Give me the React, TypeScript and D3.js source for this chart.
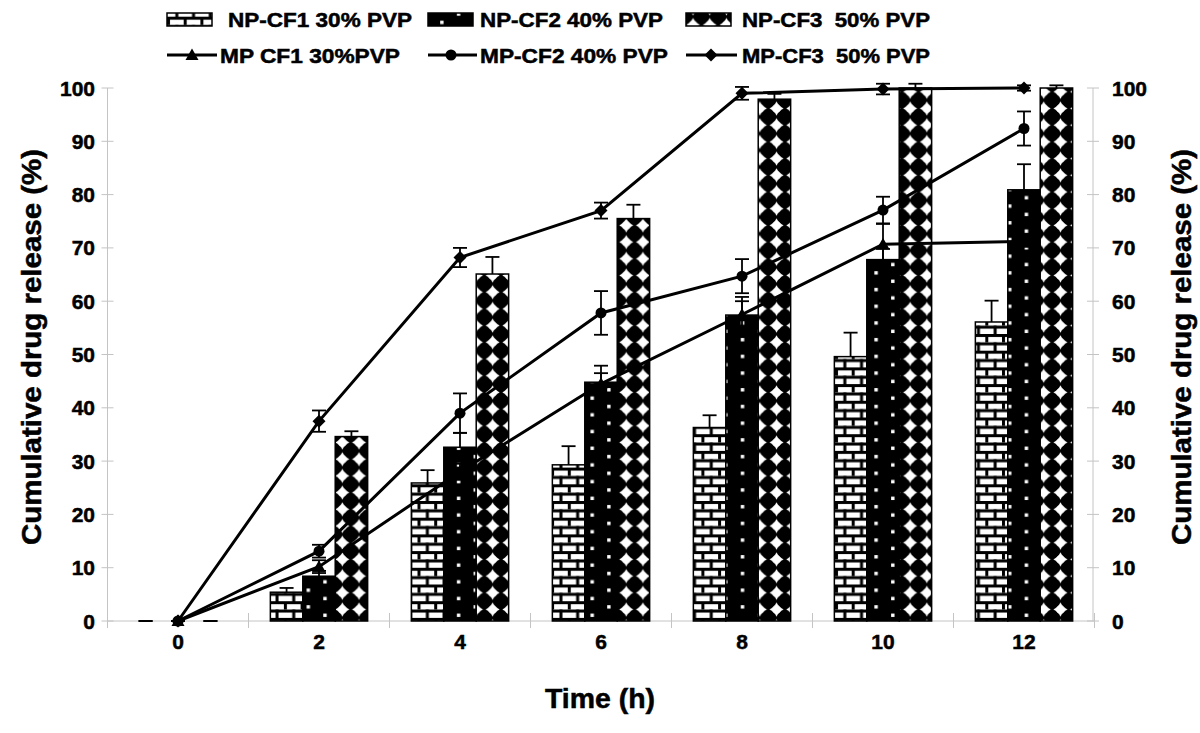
import React from "react";
import * as d3 from "d3";

const times = ["0", "2", "4", "6", "8", "10", "12"];
const barSeries = ["NP-CF1 30% PVP", "NP-CF2 40% PVP", "NP-CF3  50% PVP"];
const npCF1 = [0, 5.4, 25.9, 29.3, 36.3, 49.6, 56.1];
const npCF1Err = [0, 0.8, 2.4, 3.5, 2.3, 4.5, 4.0];
const npCF2 = [0, 8.4, 32.6, 44.8, 57.4, 67.8, 80.9];
const npCF2Err = [0, 1.0, 2.7, 3.1, 3.4, 2.0, 4.8];
const npCF3 = [0, 34.6, 65.1, 75.5, 97.9, 100, 100];
const npCF3Err = [0, 1.0, 3.2, 2.6, 1.0, 0.8, 0.5];

const lineSeries = ["MP CF1 30%PVP", "MP-CF2 40% PVP", "MP-CF3  50% PVP"];
const mpCF1 = [0, 10.2, 28.0, 44.5, 57.5, 70.7, 71.2];
const mpCF1Err = [0, 1.2, 1.5, 2.0, 2.5, 3.8, 1.0];
const mpCF2 = [0, 13.1, 39.0, 57.8, 64.7, 77.1, 92.4];
const mpCF2Err = [0, 1.2, 3.7, 4.1, 3.2, 2.5, 3.2];
const mpCF3 = [0, 37.5, 68.2, 77.0, 99.0, 99.8, 100];
const mpCF3Err = [0, 2.0, 1.8, 1.5, 1.2, 1.0, 0.5];

const yTicks = [0, 10, 20, 30, 40, 50, 60, 70, 80, 90, 100];

const FONT = "'Liberation Sans', Arial, sans-serif";

export default function App() {
  const W = 1200, H = 733;
  const left = 107.5, right = 1094.5, top = 88, bottom = 621;
  const x = d3.scaleBand<string>().domain(times).range([left, right]).paddingInner(0.31).paddingOuter(0.155);
  const x1 = d3.scaleBand<string>().domain(barSeries).range([0, x.bandwidth()]);
  const y = d3.scaleLinear().domain([0, 100]).range([bottom, top]);
  const step = x.step();

  const bars = [
    { name: barSeries[0], vals: npCF1, errs: npCF1Err, fill: "url(#brick)" },
    { name: barSeries[1], vals: npCF2, errs: npCF2Err, fill: "url(#dots)" },
    { name: barSeries[2], vals: npCF3, errs: npCF3Err, fill: "url(#diam)" },
  ];
  const lines = [
    { name: lineSeries[0], vals: mpCF1, errs: mpCF1Err, marker: "tri" },
    { name: lineSeries[1], vals: mpCF2, errs: mpCF2Err, marker: "circ" },
    { name: lineSeries[2], vals: mpCF3, errs: mpCF3Err, marker: "dia" },
  ];
  const cx = (t: string) => (x(t) as number) + x.bandwidth() / 2;
  const lineGen = d3.line<number>().x((_, i) => cx(times[i])).y((v) => y(v));

  const marker = (kind: string, px: number, py: number, key: string) => {
    if (kind === "tri") return <path key={key} d={`M${px},${py - 6.5}L${px + 6.5},${py + 5}L${px - 6.5},${py + 5}Z`} fill="#000" />;
    if (kind === "circ") return <circle key={key} cx={px} cy={py} r={5.5} fill="#000" />;
    return <path key={key} d={`M${px},${py - 6.5}L${px + 6.5},${py}L${px},${py + 6.5}L${px - 6.5},${py}Z`} fill="#000" />;
  };

  const errBar = (px: number, v: number, e: number, key: string, up = true, down = true) => {
    const hw = 7;
    const y0 = y(v), yT = y(v + e), yB = y(v - e);
    return (
      <g key={key} stroke="#000" strokeWidth={1.8}>
        {up && <line x1={px} x2={px} y1={y0} y2={yT} />}
        {up && <line x1={px - hw} x2={px + hw} y1={yT} y2={yT} />}
        {down && <line x1={px} x2={px} y1={y0} y2={yB} />}
        {down && <line x1={px - hw} x2={px + hw} y1={yB} y2={yB} />}
      </g>
    );
  };

  const P = 16.7;
  const blob = (ox: number, oy: number) =>
    `M${ox},${oy - 7}Q${ox + 2.2},${oy - 2.2} ${ox + 7},${oy}Q${ox + 2.2},${oy + 2.2} ${ox},${oy + 7}Q${ox - 2.2},${oy + 2.2} ${ox - 7},${oy}Q${ox - 2.2},${oy - 2.2} ${ox},${oy - 7}Z`;

  const legendRow1 = [
    { sx: 167, tx: 228, len: 184, fill: "url(#brick)", label: barSeries[0] },
    { sx: 428, tx: 480, len: 183, fill: "url(#dots)", label: barSeries[1] },
    { sx: 686, tx: 742, len: 188, fill: "url(#diam)", label: barSeries[2] },
  ];
  const legendRow2 = [
    { lx: 167, lx2: 217, mx: 192, tx: 220, len: 180, marker: "tri", label: lineSeries[0] },
    { lx: 428, lx2: 477, mx: 451, tx: 480, len: 188, marker: "circ", label: lineSeries[1] },
    { lx: 686, lx2: 737, mx: 711, tx: 742, len: 188, marker: "dia", label: lineSeries[2] },
  ];

  return (
    <svg width={W} height={H} style={{ position: "absolute", left: 0, top: 0, background: "#fff" }} fontFamily={FONT}>
      <defs>
        <pattern id="brick" patternUnits="userSpaceOnUse" width={P} height={P}>
          <rect width={P} height={P} fill="#fff" />
          <rect x={0} y={0} width={P} height={3} fill="#000" />
          <rect x={0} y={P / 2} width={P} height={3} fill="#000" />
          <rect x={0} y={0} width={3} height={P / 2} fill="#000" />
          <rect x={P / 2} y={P / 2} width={3} height={P / 2} fill="#000" />
        </pattern>
        <pattern id="dots" patternUnits="userSpaceOnUse" width={2 * P} height={P}>
          <rect width={2 * P} height={P} fill="#000" />
          <rect x={6} y={4} width={3.4} height={3.4} fill="#fff" />
          <rect x={6 + P} y={4 + P / 2} width={3.4} height={3.4} fill="#fff" />
        </pattern>
        <pattern id="diam" patternUnits="userSpaceOnUse" width={P} height={P}>
          <rect width={P} height={P} fill="#000" />
          <path d={blob(P / 2, P / 2)} fill="#fff" />
          <circle cx={P / 2} cy={P / 2} r={4.3} fill="#fff" />
        </pattern>
      </defs>

      {/* axes */}
      <g stroke="#c4c4c4" strokeWidth={1}>
        <line x1={left} x2={left} y1={top} y2={bottom} />
        <line x1={right - 1.5} x2={right - 1.5} y1={top} y2={bottom} />
        <line x1={left} x2={right} y1={bottom} y2={bottom} />
        {yTicks.map((t) => (
          <g key={"yt" + t}>
            <line x1={left - 6} x2={left + 6} y1={y(t)} y2={y(t)} />
            <line x1={right - 7.5} x2={right + 4.5} y1={y(t)} y2={y(t)} />
          </g>
        ))}
        {d3.range(times.length + 1).map((i) => (
          <line key={"xt" + i} x1={left + i * step} x2={left + i * step} y1={bottom - 8} y2={bottom + 7} />
        ))}
      </g>

      {/* bars */}
      {bars.map((s) =>
        s.vals.map((v, i) => {
          const bx = (x(times[i]) as number) + (x1(s.name) as number);
          return v > 0 ? (
            <rect key={s.name + i} x={bx} y={y(v)} width={x1.bandwidth()} height={y(0) - y(v)} fill={s.fill} stroke="#000" strokeWidth={1.5} />
          ) : null;
        })
      )}
      {bars.map((s) =>
        s.vals.map((v, i) => {
          const bx = (x(times[i]) as number) + (x1(s.name) as number) + x1.bandwidth() / 2;
          return errBar(bx, v, s.errs[i], "be" + s.name + i, true, v === 0);
        })
      )}

      {/* lines */}
      {lines.map((s) => (
        <path key={s.name} d={lineGen(s.vals) as string} fill="none" stroke="#000" strokeWidth={3} />
      ))}
      {lines.map((s) => s.vals.map((v, i) => errBar(cx(times[i]), v, s.errs[i], "le" + s.name + i)))}
      {lines.map((s) => s.vals.map((v, i) => marker(s.marker, cx(times[i]), y(v), "m" + s.name + i)))}

      {/* tick labels */}
      <g fontSize={21} fontWeight="bold" fill="#000" stroke="#000" strokeWidth={0.5}>
        {yTicks.map((t) => (
          <text key={"yl" + t} x={95} y={y(t) + 7.5} textAnchor="end">{t}</text>
        ))}
        {yTicks.map((t) => (
          <text key={"yr" + t} x={1112} y={y(t) + 7.5} textAnchor="start">{t}</text>
        ))}
        {times.map((t) => (
          <text key={"xl" + t} x={cx(t)} y={649} textAnchor="middle">{t}</text>
        ))}
      </g>

      {/* titles */}
      <g fontWeight="bold" fill="#000" stroke="#000" strokeWidth={0.5}>
        <text x={600} y={708} fontSize={27} textAnchor="middle" textLength={110} lengthAdjust="spacingAndGlyphs">Time (h)</text>
        <text transform="translate(41,347) rotate(-90)" fontSize={27} textAnchor="middle" textLength={396} lengthAdjust="spacingAndGlyphs">Cumulative drug release (%)</text>
        <text transform="translate(1191,347) rotate(-90)" fontSize={27} textAnchor="middle" textLength={396} lengthAdjust="spacingAndGlyphs">Cumulative drug release (%)</text>
      </g>

      {/* legend */}
      <g fontSize={20} fontWeight="bold">
        {legendRow1.map((l) => (
          <g key={l.label}>
            <rect x={l.sx} y={13} width={45} height={13} fill={l.fill} stroke="#000" strokeWidth={1.5} />
            <text x={l.tx} y={27} textLength={l.len} lengthAdjust="spacingAndGlyphs" stroke="#000" strokeWidth={0.5} style={{ whiteSpace: "pre" }}>{l.label}</text>
          </g>
        ))}
        {legendRow2.map((l) => (
          <g key={l.label}>
            <line x1={l.lx} x2={l.lx2} y1={55} y2={55} stroke="#000" strokeWidth={3} />
            {marker(l.marker, l.mx, 55, "lm" + l.label)}
            <text x={l.tx} y={63} textLength={l.len} lengthAdjust="spacingAndGlyphs" stroke="#000" strokeWidth={0.5} style={{ whiteSpace: "pre" }}>{l.label}</text>
          </g>
        ))}
      </g>
    </svg>
  );
}
